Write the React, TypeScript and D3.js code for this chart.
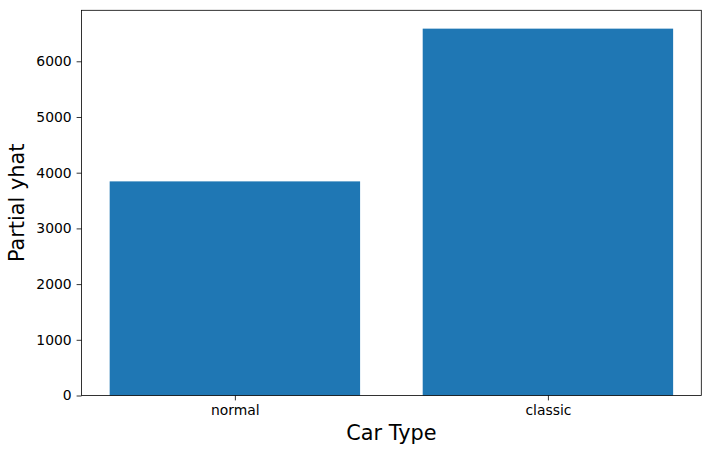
import { useEffect, useRef } from 'react'
import * as d3 from 'd3'

const categories = ['normal', 'classic']
const partialYhat = [3844, 6586]
const yTicks = [0, 1000, 2000, 3000, 4000, 5000, 6000]

const width = 710
const height = 454
const margin = { top: 10.3, right: 8.7, bottom: 58.5, left: 81.5 }
const barColor = '#1f77b4'
const font = 'DejaVu Sans, sans-serif'

export default function App() {
  const svgRef = useRef<SVGSVGElement>(null)

  useEffect(() => {
    if (!svgRef.current) return
    const svg = d3.select(svgRef.current)
    svg.selectAll('*').remove()

    const innerWidth = width - margin.left - margin.right
    const innerHeight = height - margin.top - margin.bottom

    // matplotlib-like autoscale: bars at 0..n-1, width 0.8, 5% margins
    const lo = -0.4
    const hi = categories.length - 1 + 0.4
    const pad = (hi - lo) * 0.05
    const xScale = d3.scaleLinear().domain([lo - pad, hi + pad]).range([0, innerWidth])
    const yMax = d3.max(partialYhat) as number
    const yScale = d3.scaleLinear().domain([0, yMax * 1.05]).range([innerHeight, 0])

    const g = svg.append('g').attr('transform', `translate(${margin.left},${margin.top})`)

    // bars
    g.selectAll('.bar')
      .data(partialYhat)
      .enter().append('rect')
      .attr('class', 'bar')
      .attr('x', (_d, i) => xScale(i - 0.4))
      .attr('width', xScale(0.4) - xScale(-0.4))
      .attr('y', d => yScale(d))
      .attr('height', d => yScale(0) - yScale(d))
      .attr('fill', barColor)

    // axes
    const xAxis = g.append('g')
      .attr('transform', `translate(0,${innerHeight})`)
      .call(
        d3.axisBottom(xScale)
          .tickValues(categories.map((_c, i) => i))
          .tickFormat((_d, i) => categories[i])
          .tickSize(4.9)
          .tickPadding(4.9)
      )
    const yAxis = g.append('g')
      .call(
        d3.axisLeft(yScale)
          .tickValues(yTicks)
          .tickFormat(d3.format('d'))
          .tickSize(4.9)
          .tickPadding(4.9)
      )

    for (const ax of [xAxis, yAxis]) {
      ax.select('.domain').remove()
      ax.selectAll('.tick line').attr('stroke', '#000').attr('stroke-width', 0.8)
      ax.selectAll('.tick text')
        .attr('fill', '#000')
        .style('font-family', font)
        .style('font-size', '13.9px')
    }

    // frame
    g.append('rect')
      .attr('width', innerWidth)
      .attr('height', innerHeight)
      .attr('fill', 'none')
      .attr('stroke', '#000')
      .attr('stroke-width', 0.8)

    // labels
    svg.append('text')
      .attr('x', margin.left + innerWidth / 2)
      .attr('y', 440)
      .attr('text-anchor', 'middle')
      .style('font-family', font)
      .style('font-size', '20.8px')
      .text('Car Type')

    svg.append('text')
      .attr('transform', `translate(24,${margin.top + innerHeight / 2}) rotate(-90)`)
      .attr('text-anchor', 'middle')
      .style('font-family', font)
      .style('font-size', '20.8px')
      .text('Partial yhat')
  }, [])

  return (
    <svg
      ref={svgRef}
      width={width}
      height={height}
      style={{ position: 'absolute', left: 0, top: 0, background: '#fff' }}
    />
  )
}
